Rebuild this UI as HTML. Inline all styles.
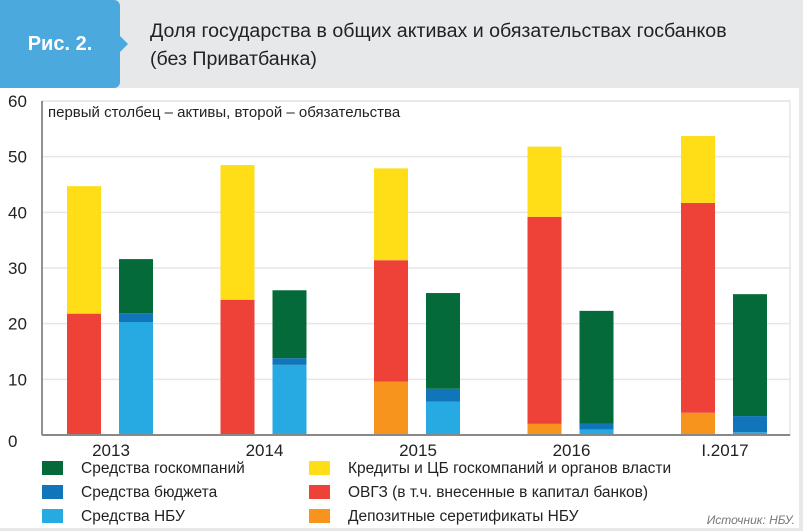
<!DOCTYPE html>
<html><head><meta charset="utf-8"><style>
body{margin:0;width:803px;height:531px;background:#e7e8e9;font-family:"Liberation Sans",sans-serif;overflow:hidden;position:relative}
.hdr{position:absolute;left:0;top:0;width:803px;height:88px;background:#e7e8e9}
.badge{position:absolute;left:0;top:0;width:120px;height:88px;background:#4ba9de;border-radius:0 6px 6px 0;color:#fff;font-weight:bold;font-size:20px;line-height:88px;text-align:center}
.badge:after{content:"";position:absolute;right:-8px;top:36px;border-left:8px solid #4ba9de;border-top:8px solid transparent;border-bottom:8px solid transparent}
.title{position:absolute;left:150px;top:17px;font-size:19.6px;line-height:28px;color:#222}
.panel{position:absolute;left:0;top:88px;width:799px;height:440px;background:#fff}
svg text{font-family:"Liberation Sans",sans-serif}
</style></head><body>
<div class="hdr">
<div class="badge">Рис. 2.</div>
<div class="title">Доля государства в общих активах и обязательствах госбанков<br>(без Приватбанка)</div>
</div>
<div class="panel"></div>
<svg id="chart" width="803" height="531" style="position:absolute;left:0;top:0"></svg>
<script>
const categories=["2013","2014","2015","2016","I.2017"];
const assetOrange=[0,0,9.6,2.0,4.0];
const assetRed=[21.8,24.3,21.8,37.2,37.7];
const assetYellow=[22.9,24.2,16.5,12.6,12.0];
const liabNbu=[20.3,12.6,6.0,1.0,0.5];
const liabBudget=[1.6,1.2,2.3,1.0,2.9];
const liabCompanies=[9.7,12.2,17.2,20.3,21.9];
const yTicks=[0,10,20,30,40,50,60];
const legendItems=[["Средства госкомпаний","#056a3a"],["Средства бюджета","#1175bc"],["Средства НБУ","#27aae1"],["Кредиты и ЦБ госкомпаний и органов власти","#ffdd17"],["ОВГЗ (в т.ч. внесенные в капитал банков)","#ee4137"],["Депозитные серетификаты НБУ","#f7941d"]];
const svg=document.getElementById('chart');const NS="http://www.w3.org/2000/svg";
function mk(t,a,p){const e=document.createElementNS(NS,t);for(const k in a)e.setAttribute(k,a[k]);(p||svg).appendChild(e);return e;}
const X0=42,X1=790,Y0=435,Y60=101;
const y=v=>Y0-(v/60)*(Y0-Y60);
const groupW=153.5;
const aLeft=i=>X0+25+groupW*i;
yTicks.forEach(t=>{
 if(t>0){const g=mk('line',{x1:X0,x2:X1,y1:y(t),y2:y(t),stroke:'#e6e6e6','stroke-width':1.5});
 }
 const l=mk('text',{x:8,y:y(t)+(t==0?12:6),'font-size':17,fill:'#222'});l.textContent=t;
 
});
mk('rect',{x:X0,y:Y60,width:X1-X0,height:Y0-Y60,fill:'none',stroke:'#e6e6e6','stroke-width':1.5});
const ya=mk('line',{x1:X0,x2:X0,y1:Y60,y2:Y0,stroke:'#333','stroke-width':1});

const note=mk('text',{x:48,y:117,'font-size':15,fill:'#222'});note.textContent="первый столбец – активы, второй – обязательства";

function stack(xl,vals,cols,i,kind){let b=0;vals.forEach((v,j)=>{if(v<=0)return;const r=mk('rect',{x:xl,y:y(b+v),width:34,height:y(b)-y(b+v),fill:cols[j]});
 b+=v;});}
categories.forEach((c,i)=>{
 stack(aLeft(i),[assetOrange[i],assetRed[i],assetYellow[i]],["#f7941d","#ee4137","#ffdd17"],i,'asset');
 stack(aLeft(i)+52,[liabNbu[i],liabBudget[i],liabCompanies[i]],["#27aae1","#1175bc","#056a3a"],i,'liability');
 const t=mk('text',{x:aLeft(i)+44,y:456,'font-size':17,fill:'#222','text-anchor':'middle'});t.textContent=c;
 
});
const xa=mk('line',{x1:X0,x2:X1,y1:Y0,y2:Y0,stroke:'#888','stroke-width':2});

legendItems.forEach((it,k)=>{const col=Math.floor(k/3),row=k%3;const lx=col?309:42,ly=461+row*24;
 const s=mk('rect',{x:lx,y:ly,width:21,height:14,fill:it[1]});
 const t=mk('text',{x:lx+39,y:ly+12,'font-size':15.5,fill:'#222'});t.textContent=it[0];});
const src=mk('text',{x:795,y:524,'font-size':12,fill:'#777','text-anchor':'end','font-style':'italic'});src.textContent="Источник: НБУ.";

</script>
</body></html>
